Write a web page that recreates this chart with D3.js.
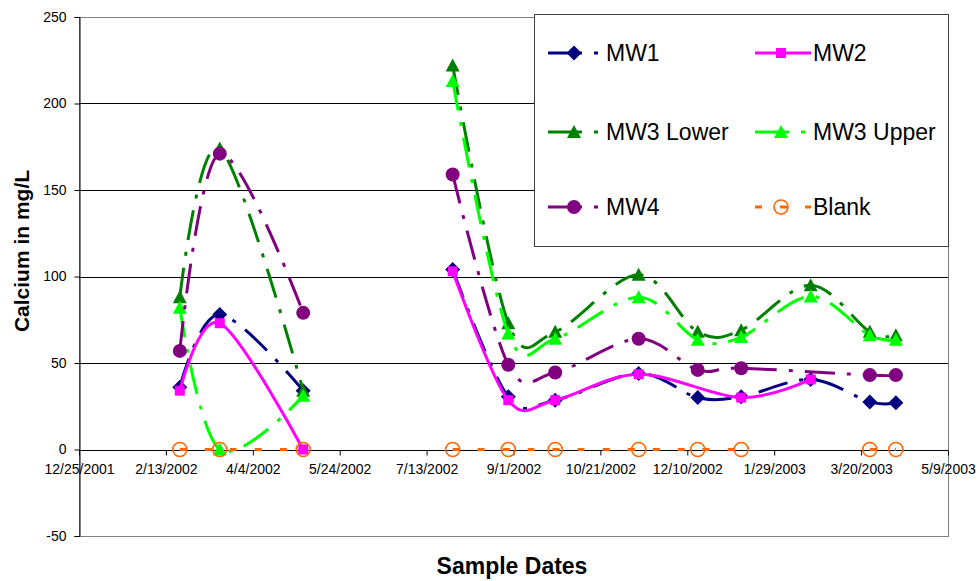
<!DOCTYPE html>
<html><head><meta charset="utf-8">
<script src="https://cdn.jsdelivr.net/npm/d3@7"></script>
<style>body{margin:0;background:#fff}svg{display:block;font-family:Arial,"Liberation Sans",sans-serif}</style>
</head><body><svg id="c" width="979" height="581"></svg>
<script>
// ---- data ----
const sampleDates = ["2002-02-21","2002-03-16","2002-05-03","2002-07-28","2002-08-29","2002-09-25","2002-11-12","2002-12-16","2003-01-10","2003-02-19","2003-03-25","2003-04-09"];
const seriesNames = ["MW1","MW2","MW3 Lower","MW3 Upper","MW4","Blank"];
const mw1      = [36, 78, 34, 104, 30.5, 28.5, 44, 30, 30.5, 40.5, 27.5, 27];
const mw2      = [34, 73, 0, 103, 28.5, 28.5, 43.5, null, 30, 40.5, null, null];
const mw3Lower = [88, 174, 34, 222, 73, 68, 101, 68, 69, 95, 68, 66];
const mw3Upper = [82, 0, 31, 213, 67, 64, 88, 63.5, 65, 88.5, 66, 63.5];
const mw4      = [57, 171, 79, 159, 49, 44.5, 64, 46, 47, null, 43, 43];
const blank    = [0, 0, 0, 0, 0, 0, 0, 0, 0, null, 0, 0];
// line breaks: series line is interrupted after these dates
const breaksAll = ["2002-05-03"];
const breaksBlank = ["2003-01-10"];
const xTickLabels = ["12/25/2001","2/13/2002","4/4/2002","5/24/2002","7/13/2002","9/1/2002","10/21/2002","12/10/2002","1/29/2003","3/20/2003","5/9/2003"];
const yTickValues = [-50, 0, 50, 100, 150, 200, 250];
const yTitle = "Calcium in mg/L";
const xTitle = "Sample Dates";

// ---- styles ----
const styles = {
  "MW1":       {color:"#000080", dash:"30,12,4,12", marker:"diamond"},
  "MW2":       {color:"#FF00FF", dash:null,          marker:"square"},
  "MW3 Lower": {color:"#008000", dash:"30,12,4,12", marker:"triangle"},
  "MW3 Upper": {color:"#00FF00", dash:"30,12,4,12", marker:"triangle"},
  "MW4":       {color:"#800080", dash:"30,12,4,12", marker:"circle"},
  "Blank":     {color:"#FF6600", dash:"7,18",        marker:"ocircle"}
};
const values = [mw1, mw2, mw3Lower, mw3Upper, mw4, blank];

const svg = d3.select("#c");
const L = 79, R = 948, T = 17, B = 536;
const parse = d3.timeParse("%Y-%m-%d");
const parseTick = d3.timeParse("%m/%d/%Y");
const fmt = d3.timeFormat("%-m/%-d/%Y");
const tickDates = xTickLabels.map(parseTick);
const x = d3.scaleTime().domain([tickDates[0], tickDates[tickDates.length-1]]).range([L, R]);
const y = d3.scaleLinear().domain([-50, 250]).range([B, T]);

// plot border (gray)
svg.append("rect").attr("x", L+0.5).attr("y", T+0.5).attr("width", R-L).attr("height", B-T)
  .attr("fill", "none").attr("stroke", "#808080").attr("stroke-width", 1);
// gridlines
svg.append("g").selectAll("line").data([50,100,150,200]).join("line")
  .attr("x1", L).attr("x2", R).attr("y1", d => Math.round(y(d))+0.5).attr("y2", d => Math.round(y(d))+0.5)
  .attr("stroke", "#000").attr("stroke-width", 1);

// y axis
const yAxis = svg.append("g").attr("transform", `translate(${L+0.5},0)`)
  .call(d3.axisLeft(y).tickValues(yTickValues).tickSize(5).tickPadding(8).tickFormat(d => String(d)));
yAxis.select(".domain").attr("stroke", "#000");
yAxis.selectAll(".tick line").attr("stroke", "#000");
yAxis.selectAll("text").attr("font-size", 14).attr("fill", "#000").attr("font-family", "Arial, 'Liberation Sans', sans-serif");

// x axis at y=0
const xAxis = svg.append("g").attr("transform", `translate(0,${Math.round(y(0))+0.5})`)
  .call(d3.axisBottom(x).tickValues(tickDates).tickSize(5).tickPadding(9).tickFormat(fmt));
xAxis.select(".domain").attr("stroke", "#000").attr("d", `M${L},0H${R}`);
xAxis.selectAll(".tick line").attr("stroke", "#000");
xAxis.selectAll("text").attr("font-size", 14).attr("fill", "#000").attr("font-family", "Arial, 'Liberation Sans', sans-serif");

// titles
svg.append("text").attr("transform", "translate(29,251) rotate(-90)").attr("text-anchor", "middle")
  .attr("font-size", 21).attr("font-weight", "bold").text(yTitle);
svg.append("text").attr("x", 512).attr("y", 574).attr("text-anchor", "middle")
  .attr("font-size", 23).attr("font-weight", "bold").text(xTitle);

// markers
function markerPath(type) {
  switch (type) {
    case "diamond": return "M0,-7.5L7.5,0L0,7.5L-7.5,0Z";
    case "square": return "M-5,-5H5V5H-5Z";
    case "triangle": return "M0,-7L7,6L-7,6Z";
    default: return d3.symbol(d3.symbolCircle, Math.PI*49)();
  }
}
function drawMarker(g, type, color, cx, cy) {
  const p = g.append("path").attr("d", markerPath(type)).attr("transform", `translate(${cx},${cy})`);
  if (type === "ocircle") p.attr("fill", "none").attr("stroke", color).attr("stroke-width", 1.6);
  else p.attr("fill", color);
}

const line = d3.line().x(d => x(d.date)).y(d => y(d.v)).curve(d3.curveCatmullRom.alpha(0));
const brkAll = breaksAll.map(parse).map(Number);
const brkBlank = breaksBlank.map(parse).map(Number);

seriesNames.forEach((name, si) => {
  const st = styles[name];
  const pts = sampleDates.map((d, i) => ({date: parse(d), v: values[si][i]})).filter(p => p.v !== null);
  const brks = name === "Blank" ? brkAll.concat(brkBlank) : brkAll;
  const segs = [[]];
  pts.forEach(p => {
    segs[segs.length-1].push(p);
    if (brks.includes(+p.date)) segs.push([]);
  });
  const g = svg.append("g");
  segs.filter(s => s.length > 1).forEach(s => {
    g.append("path").attr("d", line(s)).attr("fill", "none").attr("stroke", st.color)
      .attr("stroke-width", 3).attr("stroke-dasharray", st.dash);
  });
  pts.forEach(p => drawMarker(g, st.marker, st.color, x(p.date), y(p.v)));
});

// legend
const lg = svg.append("g");
lg.append("rect").attr("x", 534.5).attr("y", 14.5).attr("width", 414).attr("height", 232)
  .attr("fill", "#fff").attr("stroke", "#404040").attr("stroke-width", 1);
const lx = [548, 755], ly = [53, 132, 207];
seriesNames.forEach((name, i) => {
  const st = styles[name];
  const col = i % 2, row = Math.floor(i / 2);
  const x0 = lx[col], yy = ly[row];
  lg.append("line").attr("x1", x0).attr("x2", x0+56).attr("y1", yy).attr("y2", yy)
    .attr("stroke", st.color).attr("stroke-width", 3).attr("stroke-dasharray", st.dash === "7,18" ? "7,18" : st.dash ? "34,12,4,12" : null);
  drawMarker(lg, st.marker, st.color, x0+26, yy);
  lg.append("text").attr("x", x0+58).attr("y", yy+8).attr("font-size", 23).attr("fill", "#000").text(name);
});
</script></body></html>
